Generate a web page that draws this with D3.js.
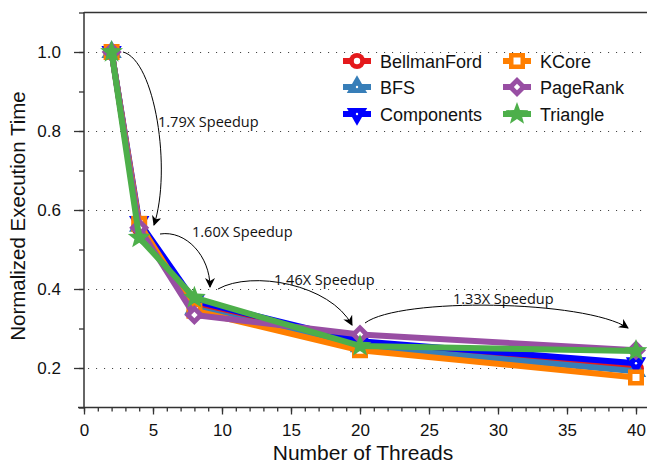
<!DOCTYPE html>
<html><head><meta charset="utf-8">
<script src="https://cdn.jsdelivr.net/npm/d3@7"></script>
<style>body{margin:0;background:#fff}svg{display:block}</style>
</head><body>
<svg id="c" width="647" height="466"></svg>
<script>
const threads = [2, 4, 8, 20, 40];
const seriesNames = ["BellmanFord", "BFS", "Components", "KCore", "PageRank", "Triangle"];
const bellmanFord = [1.0, 0.555, 0.36, 0.26, 0.198];
const bfs = [1.0, 0.56, 0.35, 0.255, 0.192];
const components = [1.0, 0.57, 0.37, 0.268, 0.212];
const kcore = [1.0, 0.565, 0.345, 0.245, 0.176];
const pageRank = [1.0, 0.555, 0.334, 0.285, 0.245];
const triangle = [1.0, 0.53, 0.378, 0.256, 0.243];
const colors = ["#e41a1c", "#377eb8", "#0000ff", "#ff7f00", "#984ea3", "#4daf4a"];
const xTicks = [0, 5, 10, 15, 20, 25, 30, 35, 40];
const yTicks = [0.2, 0.4, 0.6, 0.8, 1.0];
const annotations = ["1.79X Speedup", "1.60X Speedup", "1.46X Speedup", "1.33X Speedup"];

const values = [bellmanFord, bfs, components, kcore, pageRank, triangle];
const svg = d3.select("#c");
const x = d3.scaleLinear().domain([0, 40]).range([84, 636]);
const y = d3.scaleLinear().domain([0.1, 1.1]).range([407.5, 12.5]);
const axisColor = "#333";
const sans = "Liberation Sans, Arial, sans-serif";

// grid
svg.append("g").selectAll("line").data(yTicks).join("line")
  .attr("x1", 88).attr("x2", 645)
  .attr("y1", d => Math.round(y(d)) + 0.5).attr("y2", d => Math.round(y(d)) + 0.5)
  .attr("stroke", "#444").attr("stroke-width", 1.1).attr("stroke-dasharray", "1.1,6.9");

// top line
svg.append("line").attr("x1", 84).attr("x2", 647).attr("y1", 12.5).attr("y2", 12.5)
  .attr("stroke", axisColor).attr("stroke-width", 1.5);

// x axis
const gxm = svg.append("g").attr("transform", "translate(0,407.5)")
  .call(d3.axisBottom(x).tickValues(d3.range(0, 41, 1)).tickSize(4).tickFormat(""));
gxm.select(".domain").remove();
const gx = svg.append("g").attr("transform", "translate(0,407.5)")
  .call(d3.axisBottom(x).tickValues(xTicks).tickSize(7).tickPadding(9));
gx.select(".domain").attr("d", "M78,0H647").attr("stroke", axisColor).attr("stroke-width", 1.5);
gx.selectAll("text").attr("font-family", sans).attr("font-size", 17).attr("fill", "#111");

// y axis
const gym = svg.append("g").attr("transform", "translate(84,0)")
  .call(d3.axisLeft(y).tickValues(d3.range(0.1, 1.101, 0.1)).tickSize(5).tickFormat(""));
gym.select(".domain").remove();
const gy = svg.append("g").attr("transform", "translate(84,0)")
  .call(d3.axisLeft(y).tickValues(yTicks).tickSize(10).tickPadding(13).tickFormat(d3.format(".1f")));
gy.select(".domain").attr("d", "M0,12H0V408").attr("stroke", axisColor).attr("stroke-width", 1.5);
gy.selectAll("text").attr("font-family", sans).attr("font-size", 17).attr("fill", "#111");
svg.selectAll(".tick line").attr("stroke", axisColor).attr("stroke-width", 1.3);

// axis titles
svg.append("text").attr("x", x(20) + 3).attr("y", 460).attr("text-anchor", "middle")
  .attr("font-family", sans).attr("font-size", 21).attr("fill", "#111")
  .text("Number of Threads");
svg.append("text").attr("transform", "translate(25,216) rotate(-90)").attr("text-anchor", "middle")
  .attr("font-family", sans).attr("font-size", 20.5).attr("fill", "#111")
  .text("Normalized Execution Time");

// markers
const starPath = (r) => {
  const pts = [];
  for (let i = 0; i < 10; i++) {
    const a = -Math.PI / 2 + i * Math.PI / 5;
    const rr = i % 2 === 0 ? r : r * 0.42;
    pts.push([rr * Math.cos(a), rr * Math.sin(a)]);
  }
  return "M" + pts.map(p => p.join(",")).join("L") + "Z";
};
function drawMarker(g, idx, cx, cy) {
  const c = colors[idx];
  const m = g.append("g").attr("transform", `translate(${cx},${cy})`);
  if (idx === 0) {
    m.append("circle").attr("r", 8).attr("fill", c);
    m.append("circle").attr("r", 3.2).attr("fill", "#fff");
  } else if (idx === 1) {
    m.append("path").attr("d", d3.symbol(d3.symbolTriangle, 180)()).attr("fill", c);
    m.append("circle").attr("r", 1.2).attr("fill", "#fff");
  } else if (idx === 2) {
    m.append("path").attr("d", d3.symbol(d3.symbolTriangle, 180)()).attr("transform", "rotate(180)").attr("fill", c);
    m.append("circle").attr("r", 1.2).attr("fill", "#fff");
  } else if (idx === 3) {
    m.append("rect").attr("x", -8).attr("y", -8).attr("width", 16).attr("height", 16).attr("fill", c);
    m.append("rect").attr("x", -3.5).attr("y", -3.5).attr("width", 7).attr("height", 7).attr("fill", "#fff");
  } else if (idx === 4) {
    m.append("path").attr("d", "M0,-10L10,0L0,10L-10,0Z").attr("fill", c);
    m.append("path").attr("d", "M0,-3.2L3.2,0L0,3.2L-3.2,0Z").attr("fill", "#fff");
  } else {
    m.append("path").attr("d", starPath(12)).attr("fill", c);
  }
}

// lines
const line = d3.line().x((d, i) => x(threads[i])).y(d => y(d));
values.forEach((vals, idx) => {
  const g = svg.append("g");
  g.append("path").attr("d", line(vals)).attr("fill", "none")
    .attr("stroke", colors[idx]).attr("stroke-width", 6).attr("stroke-linejoin", "round");
  vals.forEach((v, i) => drawMarker(g, idx, x(threads[i]), y(v)));
});

// legend
const legCols = [357, 517];
const legRows = [61, 87, 114];
seriesNames.forEach((name, idx) => {
  const cx = legCols[Math.floor(idx / 3)], cy = legRows[idx % 3];
  const g = svg.append("g");
  g.append("line").attr("x1", cx - 14).attr("x2", cx + 14).attr("y1", cy).attr("y2", cy)
    .attr("stroke", colors[idx]).attr("stroke-width", 6);
  drawMarker(g, idx, cx, cy);
  g.append("text").attr("x", cx + 23).attr("y", cy + 6.5)
    .attr("font-family", sans).attr("font-size", 18).attr("fill", "#111")
    .text(name);
});

// annotations
svg.append("defs").append("marker").attr("id", "ah").attr("viewBox", "0 0 10 10")
  .attr("refX", 9).attr("refY", 5).attr("markerWidth", 10).attr("markerHeight", 10)
  .attr("markerUnits", "userSpaceOnUse").attr("orient", "auto")
  .append("path").attr("d", "M0,0L10,5L0,10L3,5Z").attr("fill", "#000");
const arrows = [
  "M123,52 C155,60 172,170 154,225",
  "M160,234 C186,230 210,256 210,287",
  "M218,289 C252,270 330,284 352,325",
  "M365,323 C400,297 585,300 628,328"
];
const labelPos = [[158, 127], [192, 237], [274, 285], [453, 304]];
arrows.forEach((d, i) => {
  svg.append("path").attr("d", d).attr("fill", "none").attr("stroke", "#000")
    .attr("stroke-width", 1).attr("marker-end", "url(#ah)");
  svg.append("text").attr("x", labelPos[i][0]).attr("y", labelPos[i][1])
    .attr("font-family", "Open Sans, sans-serif").attr("font-size", 14.5).attr("fill", "#111")
    .text(annotations[i]);
});
</script>
</body></html>
